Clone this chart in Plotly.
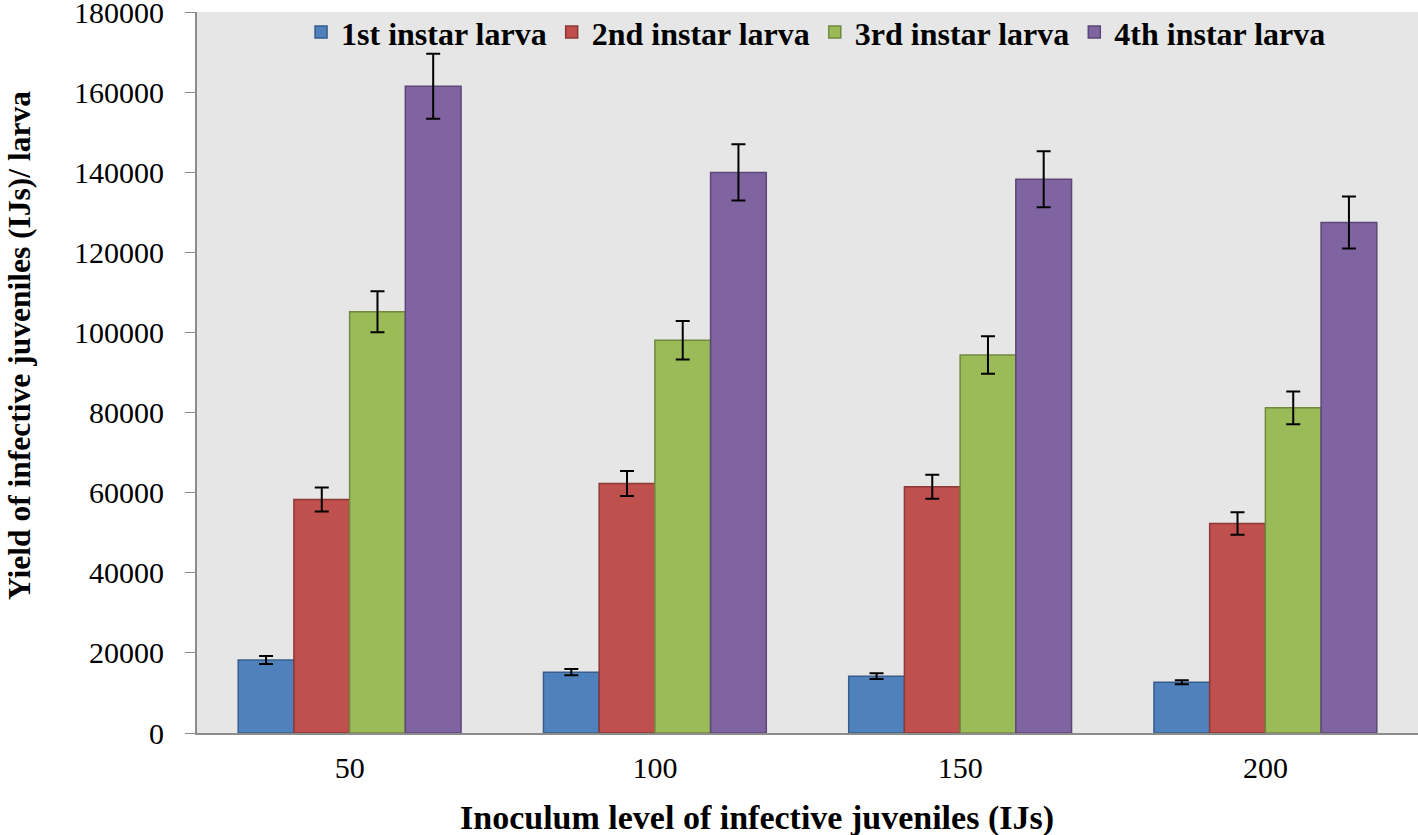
import plotly.graph_objects as go

categories = ["50", "100", "150", "200"]
series_names = ["1st instar larva", "2nd instar larva", "3rd instar larva", "4th instar larva"]
first = [18200, 15200, 14200, 12700]
second = [58300, 62300, 61500, 52300]
third = [105200, 98100, 94400, 81200]
fourth = [161500, 140000, 138300, 127500]
first_err = [1000, 800, 700, 500]
second_err = [3000, 3100, 3000, 2800]
third_err = [5100, 4800, 4700, 4100]
fourth_err = [8100, 7000, 7000, 6500]
y_ticks = [0, 20000, 40000, 60000, 80000, 100000, 120000, 140000, 160000, 180000]
x_title = "Inoculum level of infective juveniles (IJs)"
y_title = "Yield of infective juveniles (IJs)/ larva"

values = [first, second, third, fourth]
errors = [first_err, second_err, third_err, fourth_err]
fills = ["#4F81BD", "#C0504D", "#9BBB59", "#8064A2"]
lines = ["#385D8A", "#8C3836", "#71893F", "#5C4776"]

fig = go.Figure()
for name, v, e, fc, lc in zip(series_names, values, errors, fills, lines):
    fig.add_trace(go.Bar(
        x=categories, y=v, name=name,
        marker=dict(color=fc, line=dict(color=lc, width=1.5)),
        error_y=dict(type="data", array=e, visible=True, color="black", thickness=2, width=7),
    ))

serif = "Liberation Serif, Times New Roman, serif"
fig.update_layout(
    width=1418, height=835,
    barmode="group", bargap=0.27, bargroupgap=0,
    plot_bgcolor="#E6E6E6", paper_bgcolor="white",
    margin=dict(l=197, r=0, t=12, b=102, autoexpand=False),
    font=dict(family=serif, size=30, color="black"),
    legend=dict(orientation="h", x=0.507, xanchor="center", y=1.01, yanchor="top",
                bgcolor="rgba(0,0,0,0)", font=dict(family=serif, size=32, color="black", weight="bold"),
                itemwidth=30, traceorder="normal", tracegroupgap=0),
    xaxis=dict(
        showline=True, linecolor="#8C8C8C", linewidth=2, ticks="", showgrid=False,
        tickfont=dict(size=30), automargin=False, ticklabelstandoff=7,
    ),
    yaxis=dict(
        range=[0, 180050], tickvals=y_ticks, ticktext=[str(t) for t in y_ticks],
        showline=True, linecolor="#8C8C8C", linewidth=2, ticks="outside", ticklen=10, tickcolor="#8C8C8C",
        showgrid=False, zeroline=False, tickfont=dict(size=30), automargin=False, ticklabelstandoff=15,
        ticklabeloverflow="allow",
    ),
    annotations=[
        dict(text="<b>" + x_title + "</b>", xref="paper", yref="paper", x=0.4586, y=0,
             xanchor="center", yanchor="middle", yshift=-85, showarrow=False,
             font=dict(family=serif, size=34, color="black")),
        dict(text="<b>" + y_title + "</b>", xref="paper", yref="paper", x=0, y=0.5368,
             xanchor="center", yanchor="middle", xshift=-177, textangle=-90, showarrow=False,
             font=dict(family=serif, size=31.5, color="black")),
    ],
)

fig.write_html("out.html", config={"displayModeBar": False},
               post_script="document.body.style.margin='0';document.body.style.overflow='hidden';")
